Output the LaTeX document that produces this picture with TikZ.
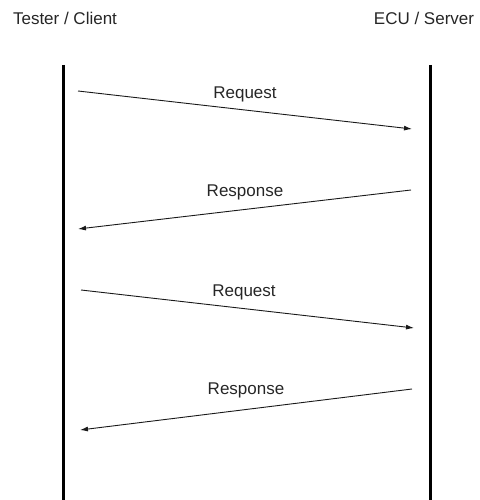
\documentclass[tikz,border=0pt]{standalone}
\usepackage{fontspec}
\setmainfont{Liberation Sans}
\usepackage{tikz}
\usetikzlibrary{positioning, arrows.meta}
\tikzset{
    >={Latex[length=8pt, width=5pt]}, % small filled heads on the messages
    lifeline/.style={line width=3pt, black}, % the two vertical time axes
    message/.style={->, line width=0.9pt, black!90},
    party/.style={font=\fontsize{17}{19}\selectfont, text=black!85},
    msglabel/.style={font=\fontsize{17}{19}\selectfont, text=black!85},
}

\begin{document}
\begin{tikzpicture}[x=1pt, y=-1pt]
        \useasboundingbox (0,0) rectangle (479,500);
        % Nodes
        \node[party] (client) at (65,18) {Tester / Client};
        \node[party] (server) at (424,18) {ECU / Server};
        \coordinate (c top) at (63,65);
        \coordinate (c bot) at (63,500);
        \coordinate (s top) at (430,65);
        \coordinate (s bot) at (430,500);

        % message end points
        \coordinate (req1 a) at (78,91);
        \coordinate (req1 b) at (412,129);
        \coordinate (res1 a) at (411,190);
        \coordinate (res1 b) at (78,229);
        \coordinate (req2 a) at (81,290);
        \coordinate (req2 b) at (414,328);
        \coordinate (res2 a) at (412,389);
        \coordinate (res2 b) at (80,430);

        % Draw lines
        \draw[lifeline] (c top) -- (c bot);
        \draw[lifeline] (s top) -- (s bot);
        \draw[message] (req1 a) -- (req1 b);
        \draw[message] (res1 a) -- (res1 b);
        \draw[message] (req2 a) -- (req2 b);
        \draw[message] (res2 a) -- (res2 b);

        % Labels
        \node[msglabel] (req1) at (245,94) {Request};
        \node[msglabel] (res1) at (245,192) {Response};
        \node[msglabel] (req2) at (244,292) {Request};
        \node[msglabel] (res2) at (246,390) {Response};
    \end{tikzpicture}
\end{document}
